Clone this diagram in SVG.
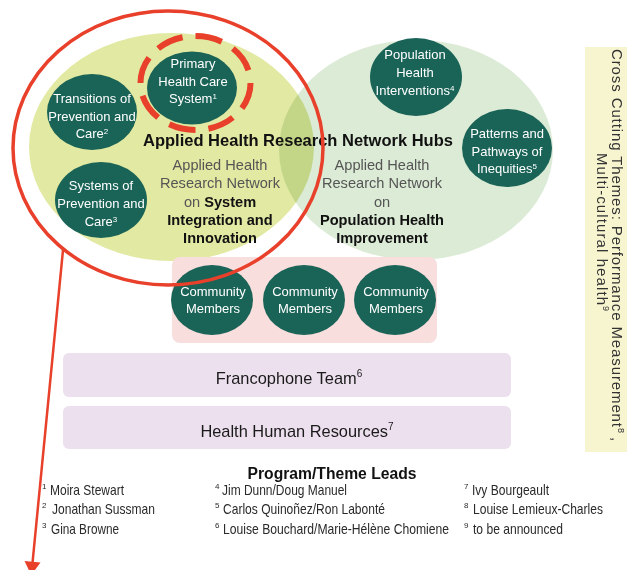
<svg xmlns="http://www.w3.org/2000/svg" width="627" height="570" viewBox="0 0 627 570">
<style>
.teal{fill:#1a6357}
.ct{font-family:"Liberation Sans",Arial,sans-serif;font-size:13px;fill:#fff;text-anchor:middle}
.sup{font-size:8px}
.sub{font-family:"Liberation Sans",Arial,sans-serif;font-size:14.6px;fill:#555;text-anchor:middle}
.b{font-weight:bold;fill:#111}
.bar{fill:#ecdfee}
.bt{font-family:"Liberation Sans",Arial,sans-serif;font-size:16.4px;fill:#1a1a1a;text-anchor:middle}
.fn{font-family:"Liberation Sans",Arial,sans-serif;font-size:15px;fill:#2a2a2a}
.fs{font-family:"Liberation Sans",Arial,sans-serif;font-size:8px;fill:#2a2a2a}
.rt{font-family:"Liberation Sans",Arial,sans-serif;font-size:15px;fill:#333}
.red{fill:none;stroke:#e8402a}
</style>
<rect width="627" height="570" fill="#fff"/>
<g id="hub-system">
<ellipse cx="171.5" cy="147" rx="142.5" ry="114" fill="#e2e9a2"/>
</g>
<g id="hub-population">
<ellipse cx="416" cy="150" rx="137" ry="110" fill="#dcebd6" style="mix-blend-mode:multiply"/>
</g>
<g id="hub-labels">
<text x="298" y="146" font-family="Liberation Sans,Arial,sans-serif" font-size="16.5" font-weight="bold" fill="#111" text-anchor="middle">Applied Health Research Network Hubs</text>
<text class="sub"><tspan x="220" y="170">Applied Health</tspan><tspan x="220" y="188">Research Network</tspan><tspan x="220" y="207">on <tspan class="b">System</tspan></tspan><tspan x="220" y="225" class="b">Integration and</tspan><tspan x="220" y="243" class="b">Innovation</tspan></text>
<text class="sub"><tspan x="382" y="170">Applied Health</tspan><tspan x="382" y="188">Research Network</tspan><tspan x="382" y="207">on</tspan><tspan x="382" y="225" class="b">Population Health</tspan><tspan x="382" y="243" class="b">Improvement</tspan></text>
</g>
<g id="primary-health-care">
<ellipse class="teal" cx="192" cy="88" rx="45" ry="36.5"/>
<text class="ct"><tspan x="193" y="68">Primary</tspan><tspan x="193" y="85.5">Health Care</tspan><tspan x="193" y="103">System<tspan class="sup" dy="-4">1</tspan></tspan></text>
</g>
<g id="transitions">
<ellipse class="teal" cx="92" cy="112" rx="45" ry="38"/>
<text class="ct"><tspan x="92" y="103">Transitions of</tspan><tspan x="92" y="121">Prevention and</tspan><tspan x="92" y="138">Care<tspan class="sup" dy="-4">2</tspan></tspan></text>
</g>
<g id="systems">
<ellipse class="teal" cx="101" cy="200" rx="46" ry="38"/>
<text class="ct"><tspan x="101" y="190">Systems of</tspan><tspan x="101" y="208">Prevention and</tspan><tspan x="101" y="226">Care<tspan class="sup" dy="-4">3</tspan></tspan></text>
</g>
<g id="population-interventions">
<ellipse class="teal" cx="416" cy="77" rx="46" ry="39"/>
<text class="ct"><tspan x="415" y="59">Population</tspan><tspan x="415" y="77">Health</tspan><tspan x="415" y="95">Interventions<tspan class="sup" dy="-4">4</tspan></tspan></text>
</g>
<g id="patterns-pathways">
<ellipse class="teal" cx="507" cy="148" rx="45" ry="39"/>
<text class="ct"><tspan x="507" y="138">Patterns and</tspan><tspan x="507" y="156">Pathways of</tspan><tspan x="507" y="173">Inequities<tspan class="sup" dy="-4">5</tspan></tspan></text>
</g>
<g id="community">
<rect x="172" y="257" width="265" height="86" rx="8" fill="#f9dede"/>
<ellipse class="teal" cx="212" cy="300" rx="41" ry="35"/>
<ellipse class="teal" cx="304" cy="300" rx="41" ry="35"/>
<ellipse class="teal" cx="395" cy="300" rx="41" ry="35"/>
<text class="ct"><tspan x="213" y="296">Community</tspan><tspan x="213" y="313">Members</tspan></text>
<text class="ct"><tspan x="305" y="296">Community</tspan><tspan x="305" y="313">Members</tspan></text>
<text class="ct"><tspan x="396" y="296">Community</tspan><tspan x="396" y="313">Members</tspan></text>
</g>
<g id="francophone">
<rect class="bar" x="63" y="353" width="448" height="44" rx="6"/>
<text class="bt" x="289" y="384">Francophone Team<tspan font-size="10" dy="-7">6</tspan></text>
</g>
<g id="hhr">
<rect class="bar" x="63" y="406" width="448" height="43" rx="6"/>
<text class="bt" x="297" y="437">Health Human Resources<tspan font-size="10" dy="-7">7</tspan></text>
</g>
<g id="cross-cutting">
<rect x="585" y="47" width="45" height="405" fill="#f7f5d0"/>
<text class="rt" transform="translate(612,49) rotate(90)"><tspan textLength="378" lengthAdjust="spacing">Cross Cutting Themes: Performance Measurement</tspan><tspan font-size="9" dy="-6">8</tspan><tspan dy="6"> ,</tspan></text>
<text class="rt" transform="translate(597,153) rotate(90)"><tspan textLength="152" lengthAdjust="spacing">Multi-cultural health</tspan><tspan font-size="9" dy="-6">9</tspan></text>
</g>
<g id="leads">
<text x="332" y="479" font-family="Liberation Sans,Arial,sans-serif" font-size="16" font-weight="bold" fill="#111" text-anchor="middle" textLength="169" lengthAdjust="spacingAndGlyphs">Program/Theme Leads</text>
<text class="fs" x="42" y="489">1</text><text class="fn" x="50" y="495" textLength="74" lengthAdjust="spacingAndGlyphs">Moira Stewart</text>
<text class="fs" x="42" y="508">2</text><text class="fn" x="52" y="514" textLength="103" lengthAdjust="spacingAndGlyphs">Jonathan Sussman</text>
<text class="fs" x="42" y="528">3</text><text class="fn" x="51" y="534" textLength="68" lengthAdjust="spacingAndGlyphs">Gina Browne</text>
<text class="fs" x="215" y="489">4</text><text class="fn" x="222" y="495" textLength="125" lengthAdjust="spacingAndGlyphs">Jim Dunn/Doug Manuel</text>
<text class="fs" x="215" y="508">5</text><text class="fn" x="223" y="514" textLength="162" lengthAdjust="spacingAndGlyphs">Carlos Quinoñez/Ron Labonté</text>
<text class="fs" x="215" y="528">6</text><text class="fn" x="223" y="534" textLength="226" lengthAdjust="spacingAndGlyphs">Louise Bouchard/Marie-Hélène Chomiene</text>
<text class="fs" x="464" y="489">7</text><text class="fn" x="472" y="495" textLength="77" lengthAdjust="spacingAndGlyphs">Ivy Bourgeault</text>
<text class="fs" x="464" y="508">8</text><text class="fn" x="473" y="514" textLength="130" lengthAdjust="spacingAndGlyphs">Louise Lemieux-Charles</text>
<text class="fs" x="464" y="528">9</text><text class="fn" x="473" y="534" textLength="90" lengthAdjust="spacingAndGlyphs">to be announced</text>
</g>
<g id="highlights">
<ellipse class="red" cx="195.5" cy="83" rx="55" ry="47" stroke-width="6" pathLength="320" stroke-dasharray="27 13"/>
<ellipse class="red" cx="168" cy="148" rx="155" ry="137" stroke-width="3.5"/>
</g>
<g id="connectors">
<line x1="63" y1="250" x2="32.5" y2="563" stroke="#e8402a" stroke-width="2.5"/>
<polygon points="24.5,561 40.5,562.6 31.2,575" fill="#e8402a"/>
</g>
</svg>
